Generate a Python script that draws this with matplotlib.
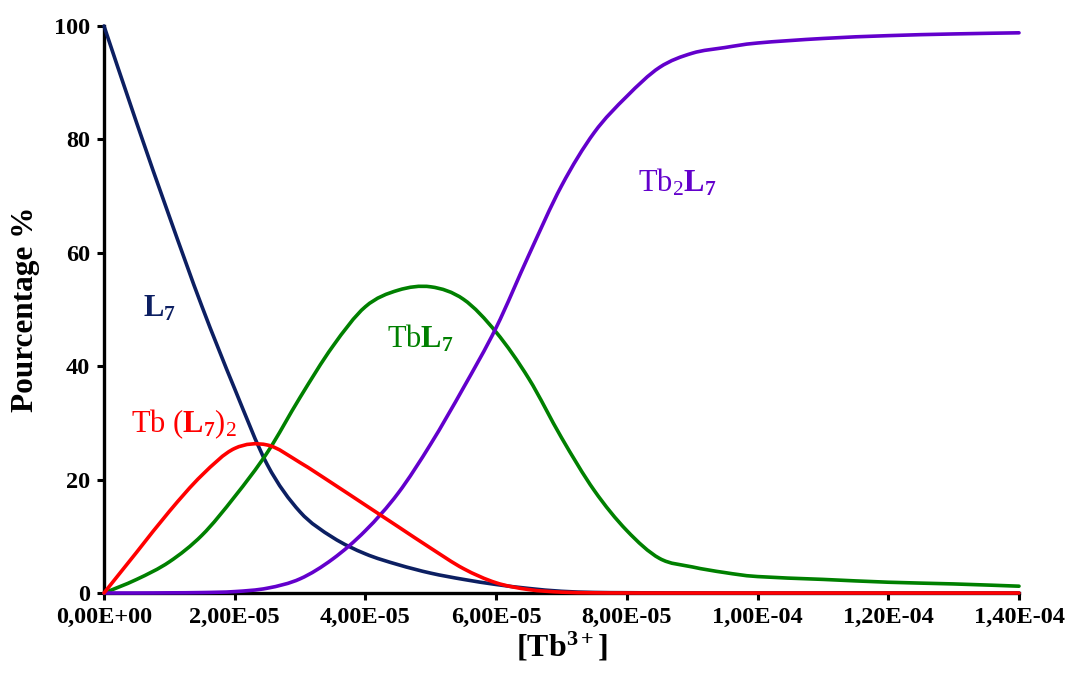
import matplotlib
matplotlib.use("Agg")
import matplotlib.pyplot as plt
from matplotlib.path import Path
from matplotlib.patches import PathPatch

# ---------------- data ----------------
tb_conc = [0, 5e-6, 1e-5, 1.5e-5, 2e-5, 2.5e-5, 3e-5, 3.5e-5, 4e-5, 4.5e-5,
           5e-5, 5.5e-5, 6e-5, 6.5e-5, 7e-5, 7.5e-5, 8e-5, 8.5e-5, 9e-5, 9.5e-5,
           1e-4, 1.1e-4, 1.2e-4, 1.3e-4, 1.4e-4]

l7 = [100, 82.9, 66.4, 50.5, 36.0, 22.6, 14.3, 9.8, 6.9, 5.0,
      3.5, 2.4, 1.5, 0.8, 0.3, 0.1, 0.05, 0.02, 0.01, 0,
      0, 0, 0, 0, 0]
tb_l7_2 = [0, 7.2, 14.4, 20.8, 25.5, 26.1, 23.0, 19.3, 15.5, 11.7,
           7.9, 4.3, 1.8, 0.6, 0.15, 0.03, 0.01, 0, 0, 0,
           0, 0, 0, 0, 0]
tb_l7 = [0, 2.4, 5.5, 10.2, 17.0, 24.8, 34.5, 43.5, 50.5, 53.4,
         54.0, 51.8, 46.0, 37.8, 27.4, 18.1, 11.0, 6.1, 4.6, 3.6,
         2.9, 2.4, 1.9, 1.6, 1.2]
tb2_l7 = [0, 0, 0.03, 0.08, 0.25, 0.85, 2.5, 6.0, 11.0, 17.6,
          26.3, 36.2, 46.8, 59.6, 71.8, 81.2, 87.6, 92.7, 95.2, 96.2,
          97.0, 97.8, 98.3, 98.6, 98.8]

x_ticks = [0, 2e-5, 4e-5, 6e-5, 8e-5, 1e-4, 1.2e-4, 1.4e-4]
x_tick_labels = ['0,00E+00', '2,00E-05', '4,00E-05', '6,00E-05',
                 '8,00E-05', '1,00E-04', '1,20E-04', '1,40E-04']
y_ticks = [0, 20, 40, 60, 80, 100]

# ---------------- style ----------------
plt.rcParams['font.family'] = ['Liberation Serif', 'DejaVu Serif']
plt.rcParams['mathtext.fontset'] = 'custom'
plt.rcParams['mathtext.rm'] = 'Liberation Serif'
plt.rcParams['mathtext.it'] = 'Liberation Serif:italic'
plt.rcParams['mathtext.bf'] = 'Liberation Serif:bold'

c_navy = '#0C1F62'
c_red = '#FF0000'
c_green = '#008000'
c_violet = '#6300CC'

fig = plt.figure(figsize=(10.68, 6.8), dpi=100)
ax = fig.add_axes([104 / 1068, 1 - 593 / 680, (1019 - 104) / 1068, (593 - 26) / 680])


def smooth_series(ax, xs, ys, color, lw, z):
    """Draw the series as a smoothed (Bezier) line, like a spreadsheet 'smoothed line'."""
    n = len(xs)
    verts = [(xs[0], ys[0])]
    codes = [Path.MOVETO]
    for i in range(n - 1):
        x0, y0 = xs[max(i - 1, 0)], ys[max(i - 1, 0)]
        x1, y1 = xs[i], ys[i]
        x2, y2 = xs[i + 1], ys[i + 1]
        x3, y3 = xs[min(i + 2, n - 1)], ys[min(i + 2, n - 1)]
        c1 = (x1 + (x2 - x0) / 6.0, y1 + (y2 - y0) / 6.0)
        c2 = (x2 - (x3 - x1) / 6.0, y2 - (y3 - y1) / 6.0)
        verts += [c1, c2, (x2, y2)]
        codes += [Path.CURVE4, Path.CURVE4, Path.CURVE4]
    patch = PathPatch(Path(verts, codes), facecolor='none', edgecolor=color,
                      lw=lw, zorder=z, clip_on=False, capstyle='round', joinstyle='round')
    ax.add_patch(patch)
    # invisible helper line keeps the series attached to the axes data
    ax.plot(xs, ys, alpha=0, lw=0)


lw = 2.6
smooth_series(ax, tb_conc, l7, c_navy, lw, 3)
smooth_series(ax, tb_conc, tb_l7, c_green, lw, 3)
smooth_series(ax, tb_conc, tb2_l7, c_violet, lw, 3)
smooth_series(ax, tb_conc, tb_l7_2, c_red, lw, 4)

ax.set_xlim(0, 1.4e-4)
ax.set_ylim(0, 100)

for s in ['top', 'right']:
    ax.spines[s].set_visible(False)
for s in ['left', 'bottom']:
    ax.spines[s].set_linewidth(2.4)
    ax.spines[s].set_color('black')

ax.set_xticks(x_ticks)
ax.set_xticklabels(x_tick_labels)
ax.set_yticks(y_ticks)
ax.tick_params(axis='both', direction='out', length=5, width=2.2, labelsize=17.5, pad=5)
for lab in ax.get_xticklabels() + ax.get_yticklabels():
    lab.set_fontweight('bold')

ax.set_ylabel('Pourcentage %', fontsize=22.5, fontweight='bold', labelpad=10)
ax.set_xlabel(r'$\mathbf{[Tb^{3+}]}$', fontsize=23, labelpad=2)

# ---------------- annotations ----------------
ax.text(6.0e-6, 48.7, r'$\mathbf{L_7}$', color=c_navy, fontsize=22, ha='left', va='baseline')
ax.text(4.1e-6, 28.4, r'Tb ($\mathbf{L_7}$)$_2$', color=c_red, fontsize=22, ha='left', va='baseline')
ax.text(43.3e-6, 43.3, r'Tb$\mathbf{L_7}$', color=c_green, fontsize=22, ha='left', va='baseline')
ax.text(81.7e-6, 70.8, r'Tb$_2$$\mathbf{L_7}$', color=c_violet, fontsize=22, ha='left', va='baseline')

fig.savefig('out.png', dpi=100)
